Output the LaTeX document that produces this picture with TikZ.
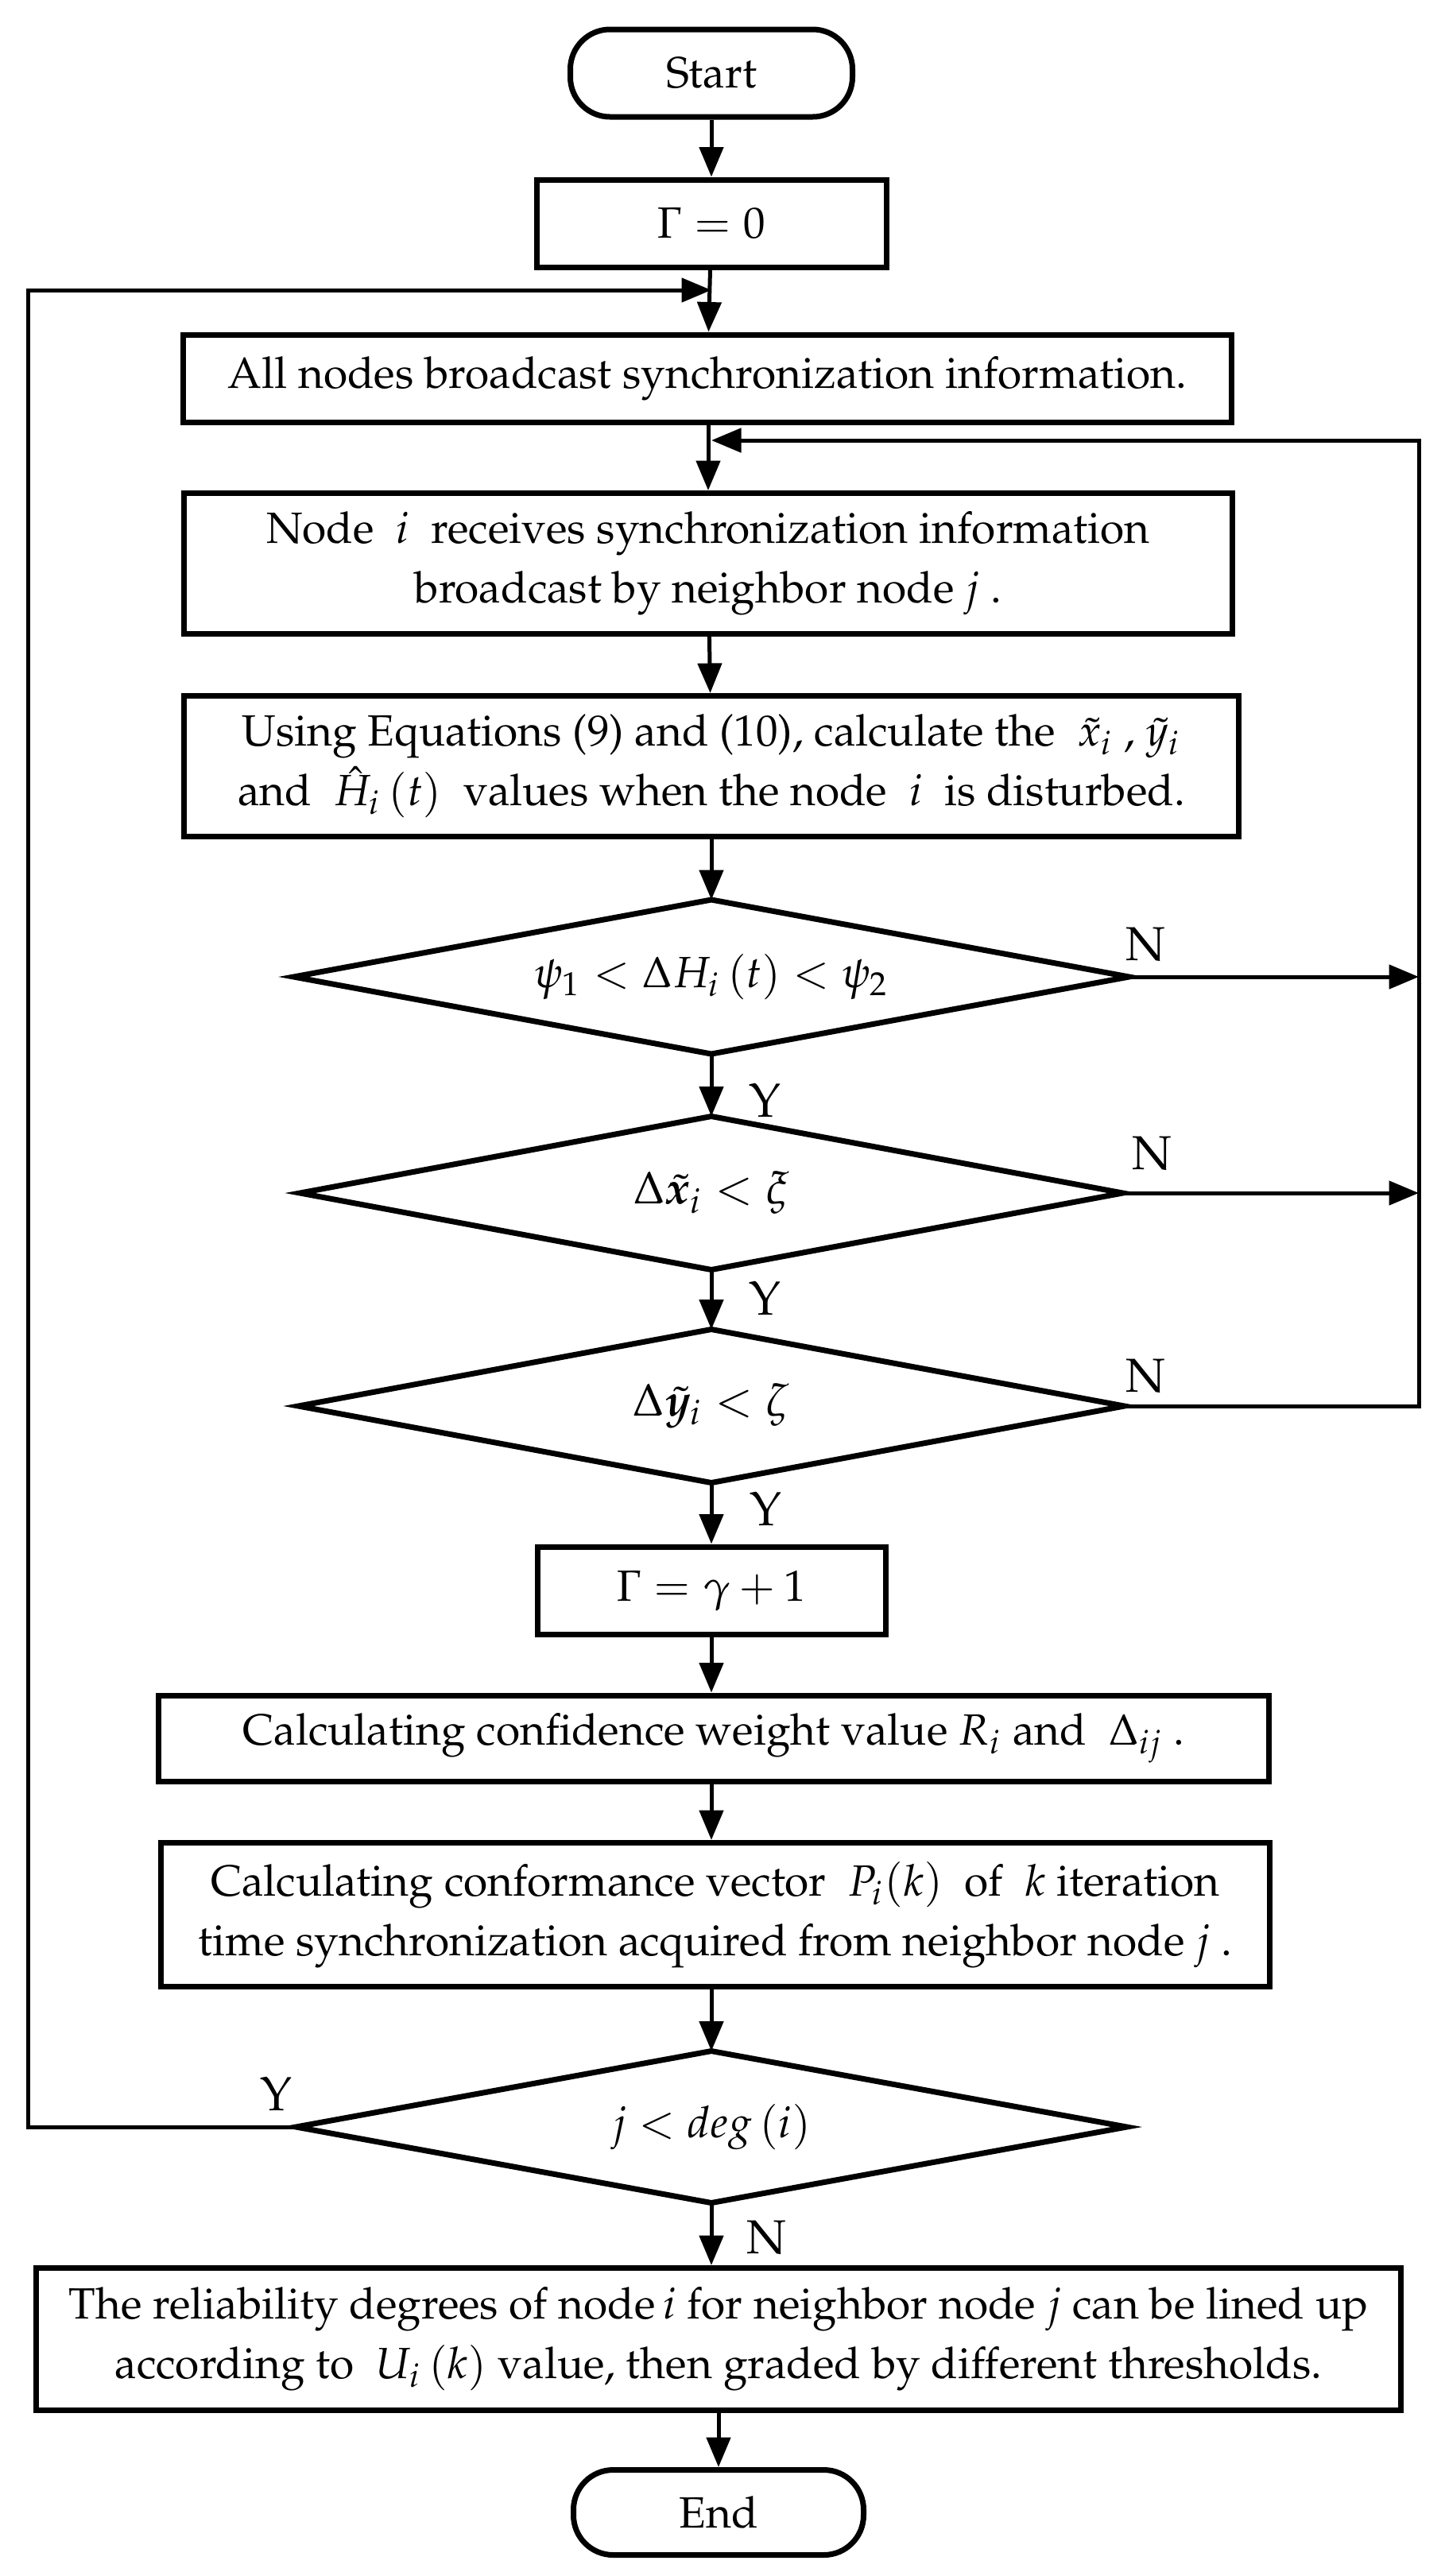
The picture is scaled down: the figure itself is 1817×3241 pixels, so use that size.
\documentclass[tikz,border=0pt]{standalone}
\usepackage[T1]{fontenc}
\usepackage{mathpazo}
\usepackage{bm}
\usetikzlibrary{arrows.meta}
\begin{document}
\begin{tikzpicture}[x=0.2pt,y=-0.2pt,
  box/.style={draw,line width=1.4pt,inner sep=0pt,align=center,font=\fontsize{11}{15}\selectfont},
  term/.style={box,rounded corners=10pt},
  dec/.style={rectangle,inner sep=0pt,align=center},
  decline/.style={line width=1.4pt},
  arr/.style={-{Triangle[length=7.5pt,width=6pt]},line width=1pt},
  lbl/.style={inner sep=0pt,font=\fontsize{12}{14}\selectfont}]
\useasboundingbox (0,0) rectangle (1817,3241);
\node[term,minimum width=71pt,minimum height=22pt] (start) at (895,92) {Start};
\node[box,minimum width=88pt,minimum height=22pt] (g0) at (895,281) {$\Gamma = 0$};
\node[box,minimum width=263.6pt,minimum height=22pt] (all) at (890,476) {All nodes broadcast synchronization information.};
\node[box,minimum width=263.6pt,minimum height=35.4pt] (nodei) at (891,709) {Node \ $i$ \ receives synchronization information\\broadcast by neighbor node $j$ .};
\node[box,minimum width=265.4pt,minimum height=35.4pt] (using) at (895,964) {Using Equations (9) and (10), calculate the \ $\tilde{x}_i$ , $\tilde{y}_i$\\and \ $\hat{H}_i\left(t\right)$ \ values when the node \ $i$ \ is disturbed.};
\node[dec,minimum width=209.8pt,minimum height=38.4pt,font=\fontsize{11}{13}\selectfont] (d1) at (895,1229) {$\psi_1 < \Delta H_i\left(t\right) < \psi_2$};
\node[dec,minimum width=206.6pt,minimum height=38.2pt,font=\fontsize{11.5}{14}\selectfont] (d2) at (895,1501) {$\Delta\tilde{\bm{x}}_i < \xi$};
\node[dec,minimum width=207.4pt,minimum height=38.2pt,font=\fontsize{11.5}{14}\selectfont] (d3) at (895,1769) {$\Delta\tilde{\bm{y}}_i < \zeta$};
\node[box,minimum width=87.6pt,minimum height=22pt] (g1) at (895,2001) {$\Gamma = \gamma + 1$};
\node[box,minimum width=279.4pt,minimum height=21.6pt] (c1) at (898,2187) {Calculating confidence weight value $R_i$ and \ $\Delta_{ij}$ .};
\node[box,minimum width=278.8pt,minimum height=36.2pt] (c2) at (900,2409) {Calculating conformance vector \ $P_i(k)$ \ of \ $k$ iteration\\time synchronization acquired from neighbor node $j$ .};
\node[dec,minimum width=208.6pt,minimum height=37.8pt,font=\fontsize{11}{13}\selectfont] (d4) at (895,2676) {$j < deg\left(i\right)$};
\node[box,minimum width=343.2pt,minimum height=35.8pt] (rel) at (904,2943) {The reliability degrees of node$\,i$ for neighbor node $j$ can be lined up\\according to \ $U_i\left(k\right)$ value, then graded by different thresholds.};
\node[term,minimum width=73pt,minimum height=21.4pt] (end) at (904,3161) {End};
\foreach \d in {d1,d2,d3,d4}
  \draw[decline] (\d.north) -- (\d.east) -- (\d.south) -- (\d.west) -- cycle;
\coordinate (rx) at (1785,554);
\coordinate (rtip) at (895,554);
\coordinate (lx) at (35,365);
\coordinate (ltip) at (895,365);
\node[lbl] (n1) at (1441,1188) {N};
\node[lbl] (n2) at (1449,1451) {N};
\node[lbl] (n3) at (1441,1731) {N};
\node[lbl] (y1) at (962,1385) {Y};
\node[lbl] (y2) at (962,1634) {Y};
\node[lbl] (y3) at (964,1899) {Y};
\node[lbl] (y4) at (348,2635) {Y};
\node[lbl] (n4) at (964,2815) {N};
\draw[arr] (start) -- (g0);
\draw[arr] (g0) -- (all);
\draw[arr] (all.south -| nodei) -- (nodei);
\draw[arr] (nodei) -- (using);
\draw[arr] (using) -- (d1);
\draw[arr] (d1) -- (d2);
\draw[arr] (d2) -- (d3);
\draw[arr] (d3) -- (g1);
\draw[arr] (g1) -- (g1 |- c1.north);
\draw[arr] (c1.south -| g1) -- (g1 |- c2.north);
\draw[arr] (c2.south -| d4) -- (d4);
\draw[arr] (d4) -- (d4 |- rel.north);
\draw[arr] (rel) -- (end);
\draw[arr] (d1.east) -- (d1.east -| rx);
\draw[arr] (d2.east) -- (d2.east -| rx);
\draw[arr] (d3.east) -- (d3.east -| rx) -- (rx) -- (rtip);
\draw[arr] (d4.west) -- (d4.west -| lx) -- (lx) -- (ltip);
\end{tikzpicture}
\end{document}
